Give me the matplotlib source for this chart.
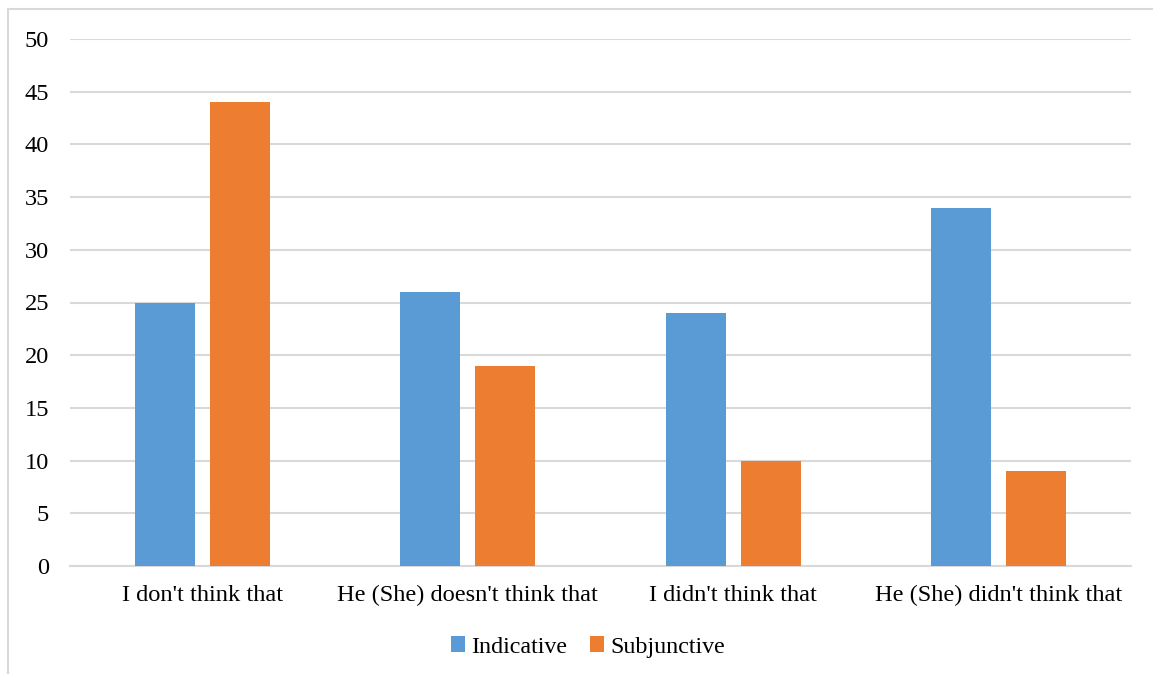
import numpy as np
import matplotlib
matplotlib.use('Agg')
import matplotlib.pyplot as plt
from matplotlib.patches import Rectangle

# データ
categories = ["I don't think that", "He (She) doesn't think that",
              "I didn't think that", "He (She) didn't think that"]
indicative = [25, 26, 24, 34]
subjunctive = [44, 19, 10, 9]
series_names = ['Indicative', 'Subjunctive']

# 見た目設定
plt.rcParams['font.family'] = ['Liberation Serif', 'DejaVu Serif']
blue = '#5B9BD5'
orange = '#ED7D31'
grid_col = '#D9D9D9'
fs = 17.6
leg_fs = 17.3

W, H = 1153, 674
fig = plt.figure(figsize=(W / 100, H / 100), dpi=100)
ax = fig.add_axes([70 / W, 1 - 566 / H, (1131 - 70) / W, (566 - 39) / H])

# 外枠
fig.patches.append(Rectangle((7.5 / W, -0.2), 1.2, 1 - 9.5 / H + 0.2,
                             transform=fig.transFigure, fill=False,
                             edgecolor=grid_col, linewidth=1.5))

x = np.arange(len(categories))
bw = 0.226
off = 0.1414
ax.bar(x - off, indicative, bw, color=blue, label=series_names[0], zorder=3)
ax.bar(x + off, subjunctive, bw, color=orange, label=series_names[1], zorder=3)

ax.set_xlim(-0.5, len(categories) - 0.5)
ax.set_ylim(0, 50)
ax.set_yticks(range(0, 51, 5))
ax.set_xticks(x)
ax.set_xticklabels(categories, fontsize=fs)
ax.tick_params(axis='y', labelsize=fs, length=0, pad=15)
ax.tick_params(axis='x', length=0, pad=13.5)
ax.grid(axis='y', color=grid_col, linewidth=1.5, zorder=0)
for s in ['top', 'right', 'left']:
    ax.spines[s].set_visible(False)
ax.spines['bottom'].set_color(grid_col)
ax.spines['bottom'].set_linewidth(1.5)

fig.legend(loc='center', bbox_to_anchor=(588 / W, 1 - 647 / H), ncol=2,
           frameon=False, fontsize=leg_fs, handlelength=0.6, handleheight=0.6,
           handletextpad=0.25, columnspacing=0.95)

fig.savefig('out.png', dpi=100)
